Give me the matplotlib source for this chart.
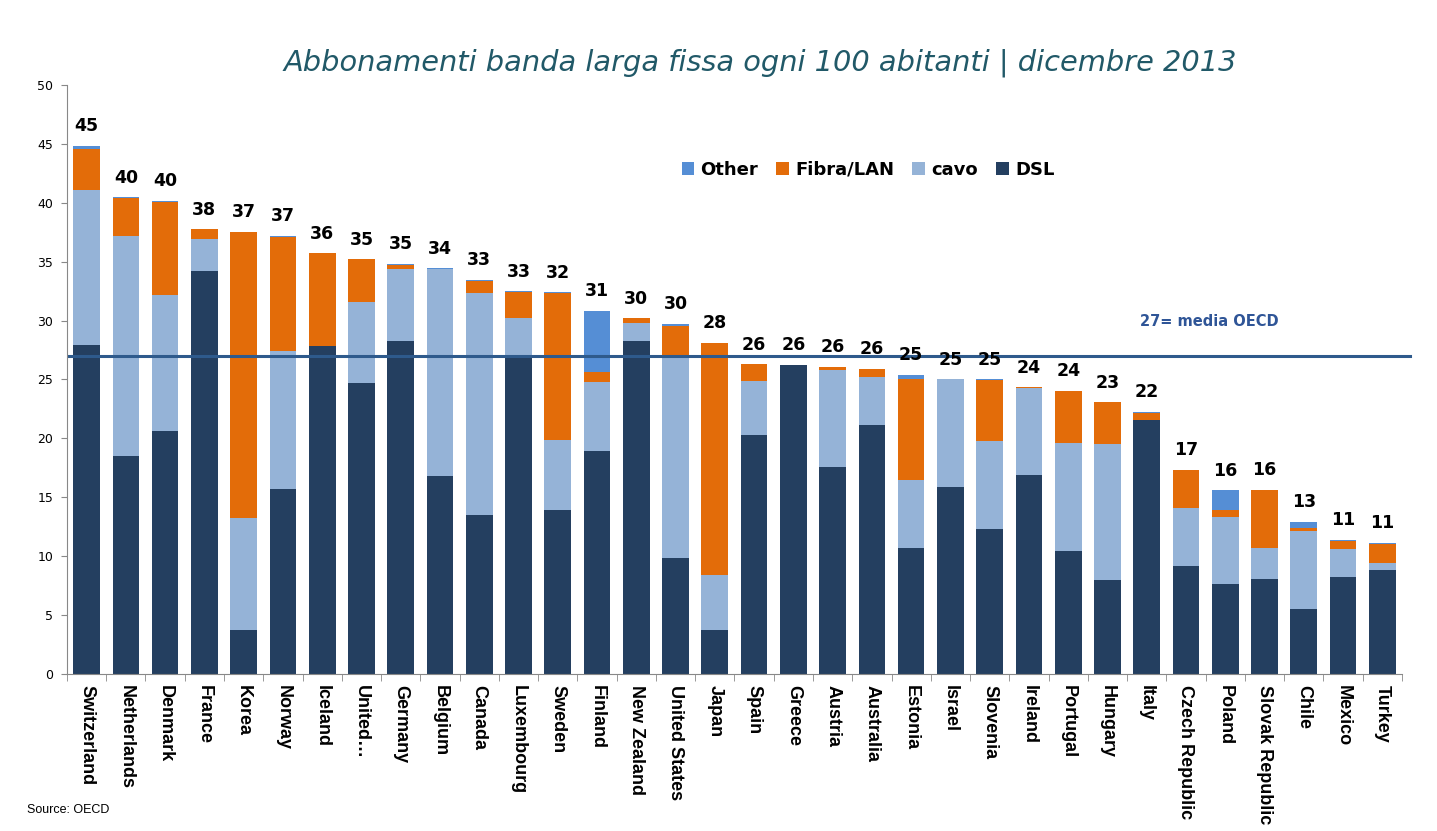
import matplotlib
matplotlib.use('Agg')
import matplotlib.pyplot as plt
import numpy as np

C_DSL   = "#243F60"
C_CAVO  = "#95B3D7"
C_FIBRA = "#E36C09"
C_OTHER = "#558ED5"

countries = ["Switzerland", "Netherlands", "Denmark", "France", "Korea", "Norway",
             "Iceland", "United…", "Germany", "Belgium", "Canada", "Luxembourg",
             "Sweden", "Finland", "New Zealand", "United States", "Japan", "Spain",
             "Greece", "Austria", "Australia", "Estonia", "Israel", "Slovenia",
             "Ireland", "Portugal", "Hungary", "Italy", "Czech Republic", "Poland",
             "Slovak Republic", "Chile", "Mexico", "Turkey"]

dsl   = [27.9, 18.5, 20.6, 34.2, 3.7, 15.7, 27.8, 24.7, 28.3, 16.8, 13.5, 26.9,
         13.9, 18.9, 28.3, 9.85, 3.7, 20.3, 26.2, 17.6, 21.1, 10.7, 15.9, 12.3,
         16.9, 10.4, 8.0, 21.6, 9.2, 7.65, 8.05, 5.5, 8.2, 8.85]
cavo  = [13.15, 18.7, 11.55, 2.7, 9.55, 11.7, 0.0, 6.85, 6.1, 17.6, 18.8, 3.3,
         6.0, 5.9, 1.5, 17.2, 4.7, 4.6, 0.05, 8.2, 4.1, 5.75, 9.1, 7.5,
         7.4, 9.2, 11.55, 0.0, 4.85, 5.7, 2.6, 6.65, 2.4, 0.6]
fibra = [3.5, 3.2, 7.9, 0.85, 24.3, 9.7, 7.9, 3.65, 0.3, 0.0, 1.1, 2.2,
         12.4, 0.85, 0.4, 2.5, 19.7, 1.4, 0.0, 0.25, 0.7, 8.6, 0.0, 5.15,
         0.05, 4.4, 3.5, 0.55, 3.3, 0.55, 5.0, 0.25, 0.7, 1.6]
other = [0.3, 0.05, 0.1, 0.0, 0.0, 0.1, 0.0, 0.0, 0.1, 0.05, 0.05, 0.1,
         0.1, 5.2, 0.0, 0.2, 0.0, 0.0, 0.0, 0.05, 0.0, 0.35, 0.0, 0.05,
         0.0, 0.05, 0.0, 0.1, 0.0, 1.7, 0.0, 0.5, 0.1, 0.1]
totals_txt = ["45", "40", "40", "38", "37", "37", "36", "35", "35", "34", "33", "33",
              "32", "31", "30", "30", "28", "26", "26", "26", "26", "25", "25", "25",
              "24", "24", "23", "22", "17", "16", "16", "13", "11", "11"]
oecd_avg = 27

x = np.arange(len(countries))
dsl, cavo, fibra, other = map(np.array, (dsl, cavo, fibra, other))

fig = plt.figure(figsize=(14.37, 8.31), dpi=100)
ax = fig.add_axes([0.0466, 0.189, 0.929, 0.7087])

w = 0.68
ax.bar(x, dsl, w, color=C_DSL, label="DSL")
ax.bar(x, cavo, w, bottom=dsl, color=C_CAVO, label="cavo")
ax.bar(x, fibra, w, bottom=dsl + cavo, color=C_FIBRA, label="Fibra/LAN")
ax.bar(x, other, w, bottom=dsl + cavo + fibra, color=C_OTHER, label="Other")

tot = dsl + cavo + fibra + other
for xi, t, s in zip(x, tot, totals_txt):
    ax.text(xi, t + 0.9, s, ha="center", va="bottom", fontsize=12.5,
            fontweight="bold", color="black")

ax.plot([-0.45, len(x) - 0.3], [oecd_avg, oecd_avg], color="#2E5A8C",
        linewidth=2.2, clip_on=False)
ax.text(28.6, 29.9, f"{oecd_avg}= media OECD", fontsize=10.5, fontweight="bold",
        color="#2F5597", ha="center", va="center")

ax.set_xlim(-0.5, len(x) - 0.5)
ax.set_ylim(0, 50)
ax.set_yticks(np.arange(0, 51, 5))
ax.tick_params(axis="y", labelsize=9, length=4, color="#888888", pad=6)
ax.set_xticks(x)
ax.set_xticklabels(countries, rotation=-90, fontsize=13, fontweight="bold",
                   family="Liberation Sans", va="top", ha="center")
ax.set_xticks(np.arange(-0.5, len(x), 1), minor=True)
ax.tick_params(axis="x", which="major", length=0, pad=8)
ax.tick_params(axis="x", which="minor", length=5, color="#888888")
for sp in ["top", "right"]:
    ax.spines[sp].set_visible(False)
ax.spines["left"].set_color("#888888")
ax.spines["bottom"].set_color("#888888")

handles, labels = ax.get_legend_handles_labels()
ax.legend(handles[::-1], labels[::-1], loc="center", bbox_to_anchor=(0.6, 0.856),
          ncol=4, frameon=False, handlelength=0.7, handleheight=0.7,
          columnspacing=1.0, handletextpad=0.35,
          prop={"size": 13, "weight": "bold"})

fig.text(0.529, 0.924, "Abbonamenti banda larga fissa ogni 100 abitanti | dicembre 2013",
         ha="center", va="center", fontsize=20.8, style="italic", color="#215968")
fig.text(0.019, 0.022, "Source: OECD", fontsize=9, family="Liberation Sans")

fig.savefig("out.png", dpi=100)
